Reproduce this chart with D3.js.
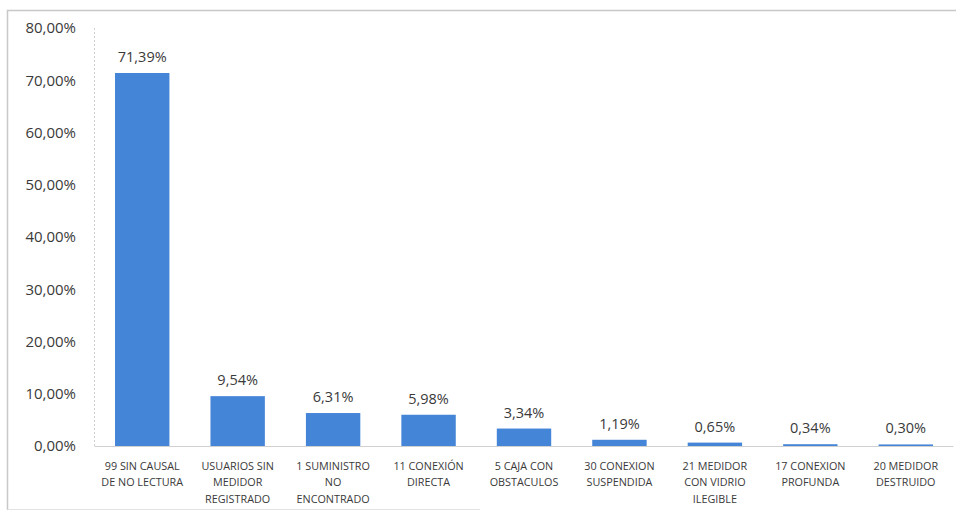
<!DOCTYPE html>
<html>
<head>
<meta charset="utf-8">
<script src="https://cdn.jsdelivr.net/npm/d3@7"></script>
<style>
  body { margin: 0; background: #fff; }
  svg text { font-family: "Open Sans", "Noto Sans", sans-serif; fill: #3a3a3a; }
</style>
</head>
<body>
<div id="chart"></div>
<script>
// Chart size
const width = 956;
const height = 514;

// Data
const categories = [
    ["99 SIN CAUSAL", "DE NO LECTURA"],
    ["USUARIOS SIN", "MEDIDOR", "REGISTRADO"],
    ["1 SUMINISTRO", "NO", "ENCONTRADO"],
    ["11 CONEXIÓN", "DIRECTA"],
    ["5 CAJA CON", "OBSTACULOS"],
    ["30 CONEXION", "SUSPENDIDA"],
    ["21 MEDIDOR", "CON VIDRIO", "ILEGIBLE"],
    ["17 CONEXION", "PROFUNDA"],
    ["20 MEDIDOR", "DESTRUIDO"]
];
const values = [71.39, 9.54, 6.31, 5.98, 3.34, 1.19, 0.65, 0.34, 0.30];
const yTicks = [0, 10, 20, 30, 40, 50, 60, 70, 80];

const fmt = v => v.toFixed(2).replace(".", ",") + "%";

const svg = d3.select("#chart")
    .append("svg")
    .attr("width", width)
    .attr("height", height);

// Outer frame (scanned chart border)
svg.append("path")
    .attr("d", "M7.5,510 L7.5,10.5 L956,10.5")
    .attr("fill", "none")
    .attr("stroke", "#c8c8c8")
    .attr("stroke-width", 1.5);
svg.append("line")
    .attr("x1", 7.5).attr("x2", 480)
    .attr("y1", 509.5).attr("y2", 509.5)
    .attr("stroke", "#e2e2e2");

const margin = { left: 94.5, right: 2.5, top: 28, bottom: 68 };

const x = d3.scaleBand()
    .domain(d3.range(categories.length))
    .range([margin.left, width - margin.right])
    .paddingInner(0.43)
    .paddingOuter(0.215);

const y = d3.scaleLinear()
    .domain([0, 80])
    .range([446, margin.top]);

// Dotted left edge of the plot area
svg.append("line")
    .attr("x1", margin.left).attr("x2", margin.left)
    .attr("y1", y(80)).attr("y2", y(0))
    .attr("stroke", "#cfcfcf")
    .attr("stroke-dasharray", "2,2");

// Y tick labels
svg.append("g")
    .selectAll("text")
    .data(yTicks)
    .enter()
    .append("text")
    .attr("x", 76)
    .attr("y", d => y(d))
    .attr("dy", "0.36em")
    .attr("text-anchor", "end")
    .style("font-size", "15px")
    .text(d => fmt(d));

// Bars
svg.append("g")
    .selectAll("rect")
    .data(values)
    .enter()
    .append("rect")
    .attr("x", (d, i) => x(i))
    .attr("y", d => y(d))
    .attr("width", x.bandwidth())
    .attr("height", d => y(0) - y(d))
    .attr("fill", "#4585d7");

// Baseline
svg.append("line")
    .attr("x1", margin.left).attr("x2", width - margin.right)
    .attr("y1", y(0) + 0.5).attr("y2", y(0) + 0.5)
    .attr("stroke", "#d0d0d0");

// Value labels
svg.append("g")
    .selectAll("text")
    .data(values)
    .enter()
    .append("text")
    .attr("x", (d, i) => x(i) + x.bandwidth() / 2)
    .attr("y", d => y(d) - 11)
    .attr("text-anchor", "middle")
    .style("font-size", "14.5px")
    .text(d => fmt(d));

// Category labels, wrapped as in the picture
const catG = svg.append("g")
    .selectAll("text")
    .data(categories)
    .enter()
    .append("text")
    .attr("x", (d, i) => x(i) + x.bandwidth() / 2)
    .attr("y", 470)
    .attr("text-anchor", "middle")
    .style("font-size", "10.8px");

catG.selectAll("tspan")
    .data(d => d)
    .enter()
    .append("tspan")
    .attr("x", function() { return d3.select(this.parentNode).attr("x"); })
    .attr("dy", (d, i) => i === 0 ? 0 : 16.3)
    .text(d => d);
</script>
</body>
</html>
